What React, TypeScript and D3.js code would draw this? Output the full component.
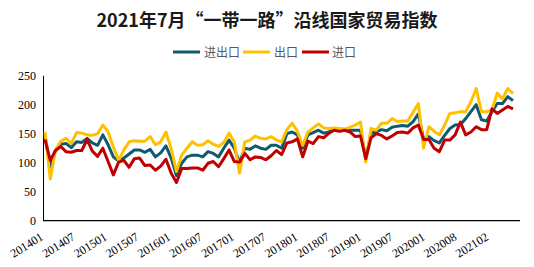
import React from "react";
import * as d3 from "d3";

// Categories (monthly; Jan–Feb 2020 reported as 202001)
const months: string[] = [
  "201401","201402","201403","201404","201405","201406","201407","201408","201409","201410","201411","201412",
  "201501","201502","201503","201504","201505","201506","201507","201508","201509","201510","201511","201512",
  "201601","201602","201603","201604","201605","201606","201607","201608","201609","201610","201611","201612",
  "201701","201702","201703","201704","201705","201706","201707","201708","201709","201710","201711","201712",
  "201801","201802","201803","201804","201805","201806","201807","201808","201809","201810","201811","201812",
  "201901","201902","201903","201904","201905","201906","201907","201908","201909","201910","201911","201912",
  "202001","202003","202004","202005","202006","202007","202008","202009","202010","202011","202012",
  "202101","202102","202103","202104","202105","202106","202107",
];

const xTickLabels: string[] = [
  "201401","201407","201501","201507","201601","201607","201701","201707",
  "201801","201807","201901","201907","202001","202008","202102",
];

const yTicks: number[] = [0, 50, 100, 150, 200, 250];

// 进出口
const totalIndex: number[] = [
  146, 93, 121, 132, 133, 126, 136, 135, 142, 134, 130, 148,
  131, 110, 103, 108, 115, 122, 122, 118, 123, 110, 117, 129,
  108, 78, 99, 110, 113, 113, 110, 119, 116, 110, 125, 139,
  125, 100, 125, 123, 129, 125, 123, 130, 130, 125, 150, 153,
  148, 125, 148, 152, 156, 151, 153, 158, 157, 157, 156, 156,
  156, 106, 151, 153, 157, 155, 161, 163, 164, 163, 171, 184,
  140, 145, 138, 134, 147, 159, 165, 166, 176, 188, 200,
  174, 172, 188, 202, 202, 214, 207,
];

// 出口
const exportIndex: number[] = [
  153, 72, 122, 137, 142, 133, 152, 151, 148, 147, 150, 165,
  153, 127, 104, 122, 136, 138, 137, 137, 145, 131, 136, 153,
  124, 85, 113, 125, 136, 130, 131, 138, 132, 128, 135, 151,
  136, 82, 136, 139, 146, 142, 141, 145, 139, 136, 157, 168,
  154, 130, 153, 160, 167, 160, 159, 160, 159, 158, 161, 165,
  170, 101, 159, 156, 168, 168, 176, 171, 172, 172, 187, 202,
  125, 162, 154, 148, 165, 185, 186, 188, 188, 205, 228,
  188, 188, 191, 220, 210, 228, 219,
];

// 进口
const importIndex: number[] = [
  140, 104, 121, 128, 119, 118, 121, 121, 140, 120, 111, 125,
  102, 79, 101, 104, 92, 107, 108, 95, 96, 87, 94, 106,
  82, 66, 90, 90, 91, 91, 87, 99, 102, 93, 107, 122,
  102, 101, 116, 105, 110, 109, 105, 112, 121, 114, 134, 136,
  141, 110, 137, 133, 145, 143, 151, 156, 154, 156, 153, 145,
  146, 107, 143, 150, 147, 141, 146, 152, 153, 151, 160, 165,
  140, 140, 125, 119, 139, 139, 148, 170, 148, 153, 162,
  157, 157, 193, 185, 191, 197, 193,
];

const seriesNames: string[] = ["进出口", "出口", "进口"];
const seriesColors: string[] = ["#0F5A6E", "#FFC000", "#C00000"];
const seriesValues: number[][] = [totalIndex, exportIndex, importIndex];

const W = 534;
const H = 267;

export default function App() {
  const xData = d3.scalePoint<string>().domain(months).range([45, 513]);
  const xLab = d3.scaleBand<string>().domain(months).range([43, 520]);
  const y = d3.scaleLinear().domain([0, 250]).range([220.7, 75.7]);

  const line = d3
    .line<number>()
    .x((_, i) => xData(months[i]) as number)
    .y((d) => y(d));

  const legendItems = [
    { sx: 173, tx: 204 },
    { sx: 243, tx: 274 },
    { sx: 302, tx: 332 },
  ];

  return (
    <div>
      <style>{`body{margin:0}`}</style>
      <svg width={W} height={H} style={{ display: "block", background: "#fff" }}>
        <text
          x={267}
          y={27}
          textAnchor="middle"
          fontFamily="'Noto Sans CJK SC', sans-serif"
          fontWeight="bold"
          fontSize={18}
          fill="#1a1a1a"
        >
          2021年7月“一带一路”沿线国家贸易指数
        </text>

        {seriesNames.map((name, k) => (
          <g key={name}>
            <line
              x1={legendItems[k].sx}
              x2={legendItems[k].sx + 27}
              y1={52}
              y2={52}
              stroke={seriesColors[k]}
              strokeWidth={3}
            />
            <text
              x={legendItems[k].tx}
              y={56.5}
              fontFamily="'Noto Sans CJK SC', sans-serif"
              fontSize={12}
              fill="#595959"
            >
              {name}
            </text>
          </g>
        ))}

        {/* axes */}
        <line x1={43.5} x2={43.5} y1={y(250)} y2={y(0)} stroke="#000" strokeWidth={1} />
        <line x1={43} x2={520} y1={y(0)} y2={y(0)} stroke="#000" strokeWidth={1.2} />

        {yTicks.map((t) => (
          <text
            key={t}
            x={36}
            y={y(t)}
            dy="0.35em"
            textAnchor="end"
            fontFamily="'Liberation Serif', serif"
            fontSize={12}
            fill="#000"
          >
            {t}
          </text>
        ))}

        {xTickLabels.map((m) => {
          const cx = (xLab(m) as number) + xLab.bandwidth() / 2 - 1.5;
          return (
            <text
              key={m}
              transform={`translate(${cx},239) rotate(-32)`}
              textAnchor="end"
              fontFamily="'Liberation Serif', serif"
              fontSize={12}
              fill="#000"
            >
              {m}
            </text>
          );
        })}

        {seriesValues.map((vals, k) => (
          <path
            key={seriesNames[k]}
            d={line(vals) || ""}
            fill="none"
            stroke={seriesColors[k]}
            strokeWidth={3}
            strokeLinejoin="round"
          />
        ))}
      </svg>
    </div>
  );
}
